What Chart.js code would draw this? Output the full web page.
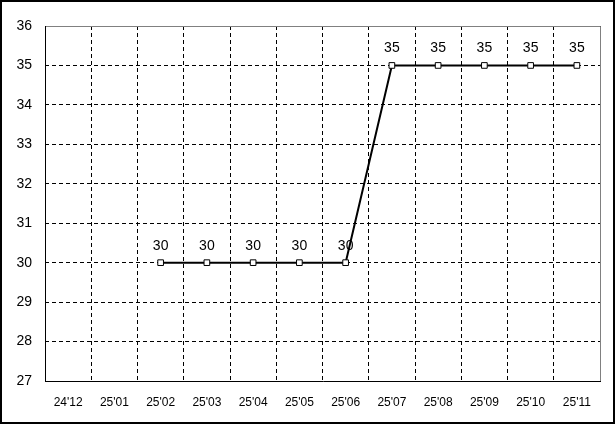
<!DOCTYPE html>
<html><head><meta charset="utf-8">
<script src="https://cdn.jsdelivr.net/npm/chart.js@4"></script>
<style>html,body{margin:0;padding:0;background:#fff}#wrap{width:615px;height:424px;position:relative}</style>
</head><body><div id="wrap"><canvas id="c" width="615" height="424"></canvas></div>
<script>
const categories = ["24'12","25'01","25'02","25'03","25'04","25'05","25'06","25'07","25'08","25'09","25'10","25'11"];
const values = [null,null,30,30,30,30,30,35,35,35,35,35];
const yMin = 27, yMax = 36, yStep = 1;

const framePlugin = {
  id: 'frame',
  beforeDatasetsDraw(chart) {
    const {ctx, chartArea: a} = chart;
    ctx.save();
    ctx.strokeStyle = '#808080';
    ctx.lineWidth = 1;
    ctx.setLineDash([]);
    ctx.beginPath();
    ctx.moveTo(Math.round(a.left)+0.5, Math.round(a.top)+0.5);
    ctx.lineTo(Math.round(a.right)+0.5, Math.round(a.top)+0.5);
    ctx.lineTo(Math.round(a.right)+0.5, Math.round(a.bottom)+0.5);
    ctx.stroke();
    ctx.strokeStyle = '#000';
    ctx.beginPath();
    ctx.moveTo(Math.round(a.left)+0.5, Math.round(a.top));
    ctx.lineTo(Math.round(a.left)+0.5, Math.round(a.bottom)+0.5);
    ctx.lineTo(Math.round(a.right)+1, Math.round(a.bottom)+0.5);
    ctx.stroke();
    ctx.restore();
  },
  afterDatasetsDraw(chart) {
    const {ctx} = chart;
    const meta = chart.getDatasetMeta(0);
    ctx.save();
    ctx.fillStyle = '#000';
    ctx.font = '14px "Liberation Sans", Arial, sans-serif';
    ctx.textAlign = 'center';
    ctx.textBaseline = 'middle';
    meta.data.forEach((pt, i) => {
      const v = chart.data.datasets[0].data[i];
      if (v == null) return;
      ctx.fillText(String(v), pt.x, pt.y - 17);
    });
    ctx.restore();
  },
  afterDraw(chart) {
    const {ctx} = chart;
    ctx.save();
    ctx.strokeStyle = '#000';
    ctx.lineWidth = 2;
    ctx.strokeRect(1, 1, 613, 422);
    ctx.restore();
  }
};

new Chart(document.getElementById('c'), {
  type: 'line',
  data: {
    labels: categories,
    datasets: [{
      data: values,
      borderColor: '#000',
      borderWidth: 2,
      tension: 0,
      pointStyle: 'rect',
      pointRadius: 4,
      pointBackgroundColor: '#fff',
      pointBorderColor: '#000',
      pointBorderWidth: 1
    }]
  },
  options: {
    responsive: false,
    animation: false,
    events: [],
    layout: {padding: {left: 0, right: 15, top: 26, bottom: 0}},
    plugins: {legend: {display: false}, tooltip: {enabled: false}},
    scales: {
      x: {
        offset: true,
        grid: {offset: true, color: '#000', lineWidth: 1, drawTicks: false},
        border: {display: false, dash: [4,3]},
        ticks: {color: '#000', font: {family: '"Liberation Sans", Arial, sans-serif', size: 12}, padding: 14, maxRotation: 0, autoSkip: false},
        afterFit(s) { s.height = 43; }
      },
      y: {
        min: yMin, max: yMax,
        grid: {color: '#000', lineWidth: 1, drawTicks: false},
        border: {display: false, dash: [4,3]},
        ticks: {stepSize: yStep, color: '#000', font: {family: '"Liberation Sans", Arial, sans-serif', size: 14}, padding: 13},
        afterFit(s) { s.width = 45; }
      }
    }
  },
  plugins: [framePlugin]
});
</script>
</body></html>
